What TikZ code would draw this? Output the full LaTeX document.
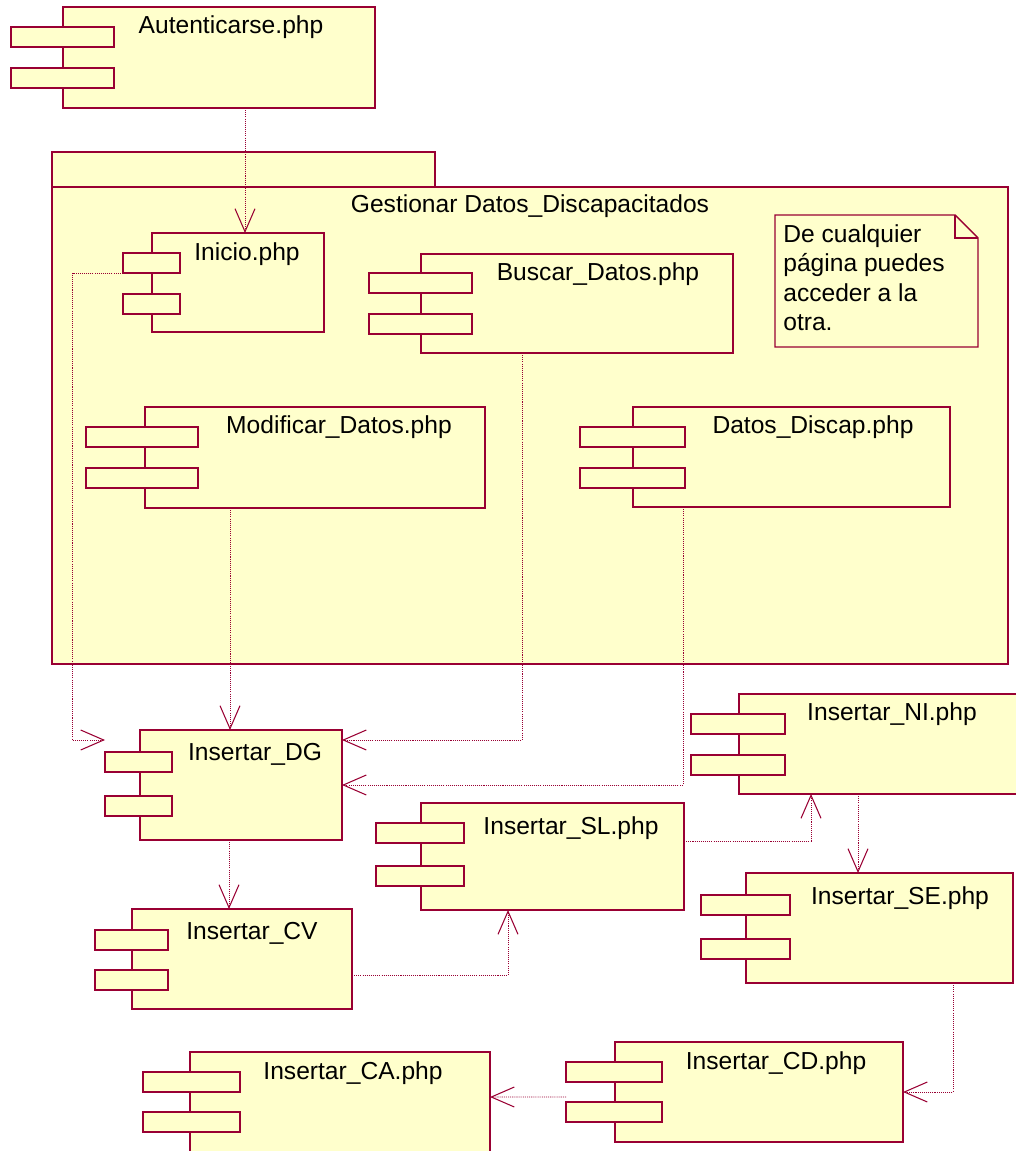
\documentclass[tikz,border=0pt]{standalone}
\usepackage{fontspec}
\setmainfont{Liberation Sans}
\usetikzlibrary{arrows.meta,fit}
\definecolor{umlred}{RGB}{153,0,51}
\definecolor{umlfill}{RGB}{255,255,204}
\begin{document}
\begin{tikzpicture}[x=0.02cm,y=-0.02cm,
        comp/.style={draw=umlred,fill=umlfill,line width=0.8pt,inner sep=0pt,outer sep=0pt},
        tabbox/.style={comp},
        lbl/.style={font=\fontsize{14}{16.8}\selectfont,inner sep=0pt,anchor=base},
        dep/.style={umlred,line width=0.5pt,dash pattern=on 0.6pt off 0.6pt,
            -{Straight Barb[length=0.46cm,width=0.4cm,line width=0.6pt]}}]
    \useasboundingbox (0,0) rectangle (1015,1151);
    % paquete
    \node[comp,fit={(52,152) (435,187)}] (pkgtab) {};
    \node[comp,fit={(52,187) (1008,664)}] (pkg) {};
    \node[lbl] (pkgname) at (530,213) {Gestionar Datos\_Discapacitados};
    % nota
    \draw[comp] (775,215) -- (955,215) -- (978,238) -- (978,347) -- (775,347) -- cycle;
    \draw[umlred,line width=0.8pt] (955,215) |- (978,238);
    \node[lbl,anchor=north west,align=left] (nota) at (783,224) {De cualquier\\página puedes\\acceder a la\\otra.};
    % componentes
    \foreach \n/\xa/\ya/\xb/\yb/\ta/\tb/\ua/\ub/\lx/\ly/\txt in {
        aut/63/7/375/108/11/114/27/68/231/34/Autenticarse.php,
        ini/152/233/324/332/123/180/253/294/247/261/Inicio.php,
        bus/421/254/733/353/369/472/273/314/598/281/Buscar\_Datos.php,
        mod/145/407/485/508/86/198/427/468/339/434/Modificar\_Datos.php,
        dis/633/407/950/507/580/685/427/468/813/434/Datos\_Discap.php,
        dg/140/730/342/840/105/172/752/796/255/760/Insertar\_DG,
        ni/739/694/1030/794/691/785/714/755/892/720/Insertar\_NI.php,
        sl/421/803/684/910/376/464/823/866/571/834/Insertar\_SL.php,
        se/746/873/1013/983/701/790/895/939/900/904/Insertar\_SE.php,
        cv/132/909/352/1009/95/168/930/970/252/939/Insertar\_CV,
        ca/190/1052/490/1165/143/240/1072/1112/353/1079/Insertar\_CA.php,
        cd/615/1042/903/1142/566/662/1062/1102/776/1069/Insertar\_CD.php}
    {
        \node[comp,fit={(\xa,\ya) (\xb,\yb)}] (\n) {};
        \node[tabbox,fit={(\ta,\ua) (\tb,\ua+20)}] (\n1) {};
        \node[tabbox,fit={(\ta,\ub) (\tb,\ub+20)}] (\n2) {};
        \node[lbl] (\n-lbl) at (\lx,\ly) {\txt};
    }
    % dependencias
    \draw[dep] (245,0 |- aut.south) -- (245,0 |- ini.north);
    \draw[dep] (ini1.south west) -- ++(-51,0) |- ([yshift=0.24cm]dg1.north west);
    \draw[dep] (230,0 |- mod.south) -- (230,0 |- dg.north);
    \draw[dep] (522,0 |- bus.south) |- ([yshift=-0.2cm]dg.north east);
    \draw[dep] (683,0 |- dis.south) |- (dg.east);
    \draw[dep] (229,0 |- dg.south) -- (229,0 |- cv.north);
    \draw[dep] ([yshift=-0.32cm]cv.east) -| (508,0 |- sl.south);
    \draw[dep] ([yshift=0.31cm]sl.east) -| (811,0 |- ni.south);
    \draw[dep] (858,0 |- ni.south) -- (858,0 |- se.north);
    \draw[dep] (953,0 |- se.south) |- (cd.east);
    \draw[dep] ([yshift=-0.3cm]cd1.south west) -- ([yshift=0.23cm]ca.east);
\end{tikzpicture}
\end{document}
